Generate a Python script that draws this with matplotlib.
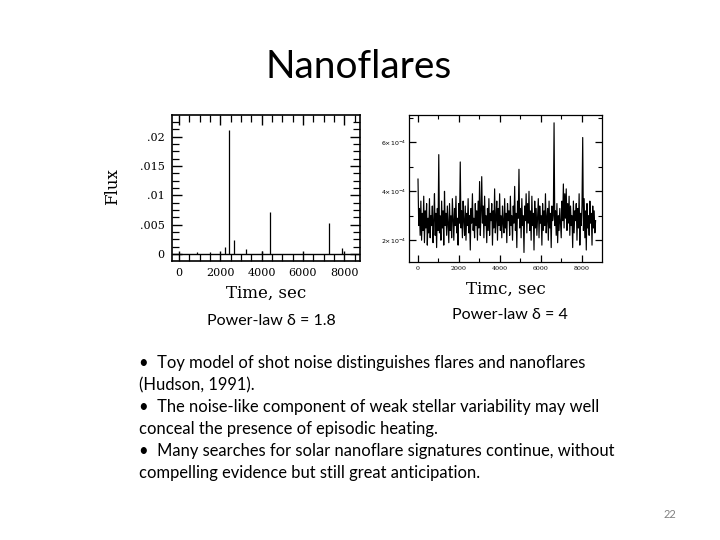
import numpy as np
import matplotlib
matplotlib.use("Agg")
import matplotlib.pyplot as plt
from matplotlib.ticker import MultipleLocator, FixedLocator

# ---------------- data ----------------
# Left panel (power-law delta = 1.8): spikes over a zero baseline
left_spike_t = [850, 1500, 2230, 2420, 2680, 3230, 4030, 4420, 7280, 7900]
left_spike_f = [0.0003, 0.0004, 0.0012, 0.0211, 0.0024, 0.0008, 0.0005, 0.0071, 0.0053, 0.0010]
left_xticks = [0, 2000, 4000, 6000, 8000]
left_yticks = [0, 0.005, 0.01, 0.015, 0.02]
left_yticklabels = ["0", ".005", ".01", ".015", ".02"]

# Right panel (power-law delta = 4): noise-like light curve, units of 1e-4
right_dt = 35
right_flux_e4 = [
    4.5, 2.6, 3.3, 2.2, 3.6, 2.0, 3.1, 2.4, 3.8, 1.9,
    3.2, 2.5, 3.5, 1.8, 2.9, 2.3, 3.7, 2.1, 3.0, 2.6,
    3.4, 1.9, 2.8, 3.9, 2.2, 3.1, 1.7, 3.3, 2.4, 5.5,
    2.3, 3.0, 2.0, 3.6, 2.5, 3.2, 1.8, 4.0, 2.6, 3.1,
    2.2, 3.4, 2.7, 1.9, 3.5, 2.4, 3.0, 2.1, 3.7, 2.8,
    2.0, 3.3, 2.6, 3.8, 2.3, 2.9, 1.8, 3.5, 2.7, 5.2,
    2.5, 3.2, 2.1, 3.6, 2.8, 2.2, 3.4, 2.0, 3.1, 2.6,
    3.7, 2.3, 3.0, 1.6, 3.3, 2.7, 3.9, 2.4, 2.9, 2.1,
    3.5, 2.6, 3.2, 2.0, 3.6, 2.5, 4.4, 2.2, 3.1, 4.6,
    2.7, 3.4, 2.1, 3.8, 2.6, 3.0, 1.9, 3.3, 2.4, 3.7,
    2.2, 3.1, 2.8, 3.5, 1.8, 3.2, 2.5, 4.1, 2.3, 2.9,
    3.6, 2.0, 3.3, 2.6, 3.9, 2.4, 3.0, 2.1, 3.4, 2.7,
    2.3, 3.7, 2.5, 3.1, 1.9, 3.5, 2.8, 3.2, 2.2, 3.8,
    2.6, 3.0, 2.0, 3.4, 2.7, 4.2, 2.4, 3.1, 1.7, 3.6,
    2.9, 4.9, 2.5, 3.3, 2.1, 3.7, 2.6, 3.0, 1.5, 3.4,
    2.8, 3.9, 2.3, 3.5, 2.7, 4.0, 2.4, 3.2, 2.0, 3.8,
    2.6, 3.1, 1.6, 3.6, 2.5, 3.3, 2.2, 2.9, 3.7, 2.1,
    3.4, 2.7, 3.0, 1.8, 3.5, 2.4, 3.2, 2.6, 3.9, 2.3,
    2.9, 3.3, 2.0, 3.6, 2.5, 3.1, 1.7, 3.4, 2.8, 3.0,
    6.8, 2.6, 3.2, 2.2, 3.5, 1.9, 3.0, 2.4, 3.3, 2.7,
    2.1, 3.6, 2.8, 4.3, 2.5, 3.9, 2.9, 4.1, 2.4, 3.5,
    2.7, 3.8, 2.2, 3.4, 2.6, 3.0, 1.7, 3.6, 2.3, 3.2,
    2.8, 3.5, 2.0, 3.3, 2.5, 3.9, 1.8, 3.1, 2.6, 3.4,
    6.2, 2.4, 3.7, 2.1, 3.2, 1.6, 3.5, 2.5, 3.0, 2.2,
    3.6, 2.7, 3.1, 1.8, 3.4, 2.5, 3.2, 2.3, 2.8,
]
right_xticks = [0, 2000, 4000, 6000, 8000]
right_yticks = [2e-4, 4e-4, 6e-4]
right_yticklabels = [r"$2{\times}10^{-4}$", r"$4{\times}10^{-4}$", r"$6{\times}10^{-4}$"]

title = "Nanoflares"
caption_left = "Power-law \u03b4 = 1.8"
caption_right = "Power-law \u03b4 = 4"
bullets = [
    "\u2022  Toy model of shot noise distinguishes flares and nanoflares",
    "(Hudson, 1991).",
    "\u2022  The noise-like component of weak stellar variability may well",
    "conceal the presence of episodic heating.",
    "\u2022  Many searches for solar nanoflare signatures continue, without",
    "compelling evidence but still great anticipation.",
]
page_number = "22"

# ---------------- figure ----------------
W, H = 720, 540
fig = plt.figure(figsize=(7.2, 5.4), dpi=100)
fig.patch.set_facecolor("white")

sans = ["Lato", "DejaVu Sans"]
serif = ["DejaVu Serif"]

def fx(px):
    return px / W

def fy(py):
    return 1 - py / H

# Title
fig.text(fx(359), fy(67), title, ha="center", va="center", fontsize=28, family=sans, color="black")

# ---- left panel ----
axL = fig.add_axes([fx(171.5), fy(261), fx(360 - 171.5), (261 - 115) / H])
axL.set_xlim(-363, 8760)
axL.set_ylim(-0.00119, 0.0237)
axL.axhline(0, color="black", lw=1.0)
axL.vlines(left_spike_t, 0, left_spike_f, color="black", lw=0.9)
axL.xaxis.set_major_locator(FixedLocator(left_xticks))
axL.xaxis.set_minor_locator(MultipleLocator(500))
axL.yaxis.set_major_locator(FixedLocator(left_yticks))
axL.yaxis.set_minor_locator(MultipleLocator(0.00125))
axL.set_yticklabels(left_yticklabels)
axL.set_xticklabels([str(v) for v in left_xticks])
axL.tick_params(which="both", direction="in", top=True, right=True, color="black")
axL.tick_params(which="major", length=7, width=1.0, labelsize=8, pad=5)
axL.tick_params(which="minor", length=5, width=0.9)
for lab in axL.get_xticklabels() + axL.get_yticklabels():
    lab.set_family(serif)
for s in axL.spines.values():
    s.set_linewidth(1.2)
axL.set_xlabel("Time, sec", family=serif, fontsize=12, labelpad=5)
fig.text(fx(113), fy(187), "Flux", rotation=90, ha="center", va="center", family=serif, fontsize=12)

# ---- right panel ----
axR = fig.add_axes([fx(409), fy(262), fx(602 - 409), (262 - 115) / H])
t_right = np.arange(len(right_flux_e4)) * right_dt
axR.plot(t_right, np.array(right_flux_e4) * 1e-4, color="black", lw=0.85)
axR.set_xlim(-440, 8993)
axR.set_ylim(1.11e-4, 7.12e-4)
axR.xaxis.set_major_locator(FixedLocator(right_xticks))
axR.xaxis.set_minor_locator(MultipleLocator(1000))
axR.yaxis.set_major_locator(FixedLocator(right_yticks))
axR.yaxis.set_minor_locator(MultipleLocator(1e-4))
axR.set_yticklabels(right_yticklabels)
axR.set_xticklabels([str(v) for v in right_xticks])
axR.tick_params(which="both", direction="in", top=True, right=True, color="black")
axR.tick_params(which="major", length=5, width=0.9, labelsize=4.5, pad=3)
axR.tick_params(which="minor", length=3, width=0.8)
axR.tick_params(axis="y", which="major", pad=2)
for lab in axR.get_xticklabels() + axR.get_yticklabels():
    lab.set_family(serif)
for s in axR.spines.values():
    s.set_linewidth(0.9)
axR.set_xlabel("Timc, sec", family=serif, fontsize=12, labelpad=7)

# captions
fig.text(fx(271), fy(321), caption_left, ha="center", va="center", fontsize=11.5, family=sans)
fig.text(fx(510), fy(315), caption_right, ha="center", va="center", fontsize=11.5, family=sans)

# bullets
line_y = [363, 385, 407, 429, 451, 473]
for txt, yy in zip(bullets, line_y):
    fig.text(fx(139), fy(yy), txt, ha="left", va="center", fontsize=11.9, family=sans)

fig.text(fx(670), fy(515), page_number, ha="center", va="center", fontsize=8, family=sans, color="#808080")

fig.savefig("out.png", dpi=100, facecolor="white")
